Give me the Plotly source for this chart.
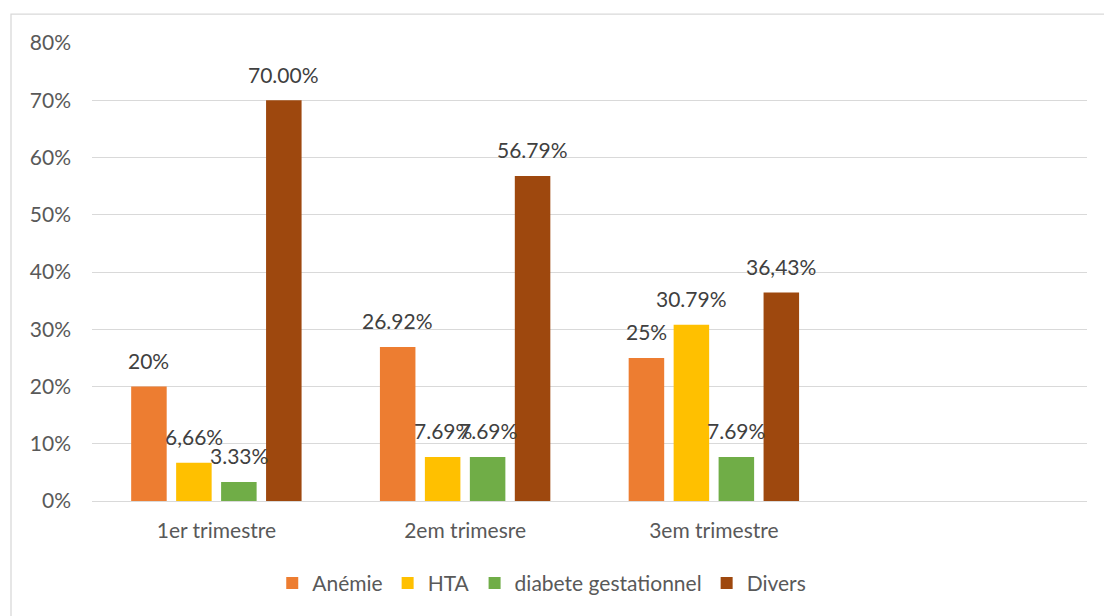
import plotly.graph_objects as go

# Pregnancy complications by trimester (%)
categories = ["1er trimestre", "2em trimesre", "3em trimestre"]
series_names = ["Anémie", "HTA", "diabete gestationnel", "Divers"]
anemie = [20, 26.92, 25]
hta = [6.66, 7.69, 30.79]
diabete = [3.33, 7.69, 7.69]
divers = [70.00, 56.79, 36.43]
value_labels = [
    ["20%", "26.92%", "25%"],
    ["6,66%", "7.69%", "30.79%"],
    ["3.33%", "7.69%", "7.69%"],
    ["70.00%", "56.79%", "36,43%"],
]
colors = ["#ED7D31", "#FFC000", "#70AD47", "#9E480E"]
y_ticks = [0, 10, 20, 30, 40, 50, 60, 70, 80]

FONT = "Lato"
FS = 21
BAR_GAP = 0.277
GROUP_GAP = 0.21

all_series = [anemie, hta, diabete, divers]
x_idx = list(range(len(categories)))

fig = go.Figure()
for name, vals, col in zip(series_names, all_series, colors):
    fig.add_trace(go.Bar(
        x=x_idx, y=vals, name=name,
        marker=dict(color=col, line=dict(width=0)),
    ))

# value labels above each bar, placed at the grouped-bar slot centres
slot = (1 - BAR_GAP) / len(all_series)
annotations = []
for k, (vals, labels) in enumerate(zip(all_series, value_labels)):
    off = (k - (len(all_series) - 1) / 2) * slot
    for i, (v, t) in enumerate(zip(vals, labels)):
        annotations.append(dict(
            x=i + off, y=v, xref="x", yref="y", text=t, showarrow=False,
            yanchor="middle", yshift=26,
            font=dict(family=FONT, size=FS, color="#404040"),
        ))

fig.update_layout(
    width=1104, height=616,
    margin=dict(l=92, r=17, t=43, b=113),
    paper_bgcolor="white", plot_bgcolor="white",
    barmode="group", bargap=BAR_GAP, bargroupgap=GROUP_GAP,
    font=dict(family=FONT, size=FS, color="#595959"),
    annotations=annotations,
    showlegend=True,
    legend=dict(
        orientation="h", x=0.452, xanchor="center", y=-0.18, yanchor="middle",
        font=dict(family=FONT, size=FS, color="#595959"),
        traceorder="normal", itemwidth=30,
    ),
    xaxis=dict(
        range=[-0.5, 3.5], tickvals=x_idx, ticktext=categories,
        showgrid=False, zeroline=False, showline=False, ticks="",
        ticklabelstandoff=15,
        tickfont=dict(family=FONT, size=FS, color="#595959"),
        fixedrange=True,
    ),
    yaxis=dict(
        range=[0, 80], tickvals=y_ticks, ticktext=[f"{t}%" for t in y_ticks],
        showgrid=True, gridcolor="#D9D9D9", gridwidth=1.3,
        zeroline=True, zerolinecolor="#D9D9D9", zerolinewidth=1.3,
        showline=False, ticks="", ticklabelstandoff=20,
        tickfont=dict(family=FONT, size=FS, color="#595959"),
        fixedrange=True,
    ),
    shapes=[dict(
        type="rect", xref="paper", yref="paper",
        x0=-0.0814, x1=1.2, y0=-0.4, y1=1.063,
        line=dict(color="#D9D9D9", width=1.3), fillcolor="rgba(0,0,0,0)",
        layer="below",
    )],
)

fig.write_html("out.html")
